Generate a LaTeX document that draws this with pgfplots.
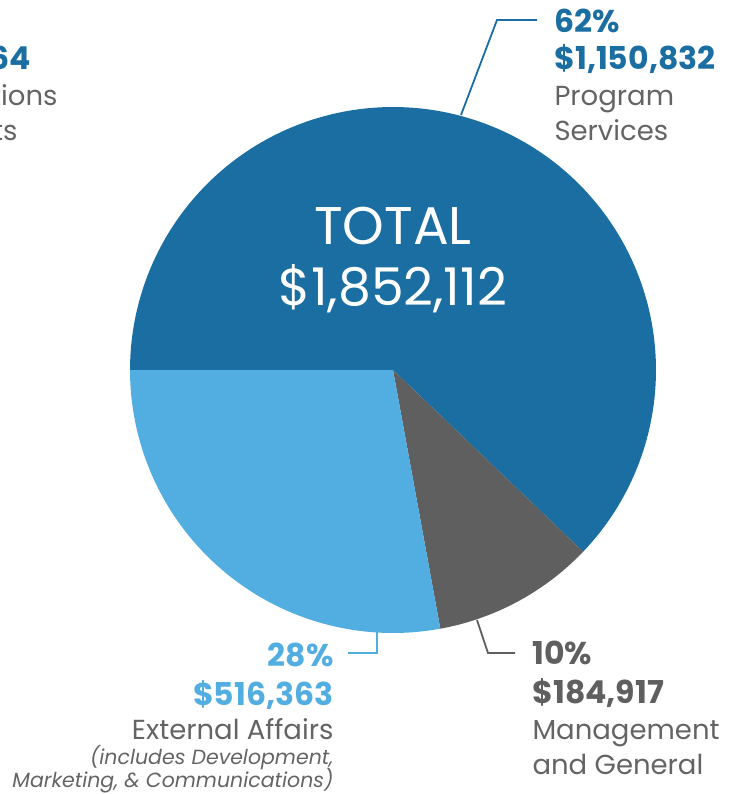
\documentclass[border=0pt]{standalone}
\usepackage{pgfplots}
\pgfplotsset{compat=1.18}
\usepackage{fontspec}
\setmainfont{Poppins}
\definecolor{dblue}{RGB}{26,110,162}
\definecolor{lblue}{RGB}{82,174,225}
\definecolor{dgray}{RGB}{95,95,95}
\definecolor{tgray}{RGB}{100,100,100}
% values in thousands of dollars
\def\vP{1150.832}
\def\vM{184.917}
\def\vE{516.363}
\pgfmathsetmacro{\vT}{\vP+\vM+\vE}
\pgfmathsetmacro{\aA}{180}
\pgfmathsetmacro{\aB}{\aA-360*(\vP/\vT)}
\pgfmathsetmacro{\aC}{\aB-360*(\vM/\vT)}
\pgfmathsetmacro{\aD}{\aC-360*(\vE/\vT)}
\newcommand{\bigb}{\fontsize{31.5}{36}\selectfont\bfseries}
\newcommand{\reg}{\fontsize{27.5}{32}\selectfont}
\newcommand{\ital}{\fontsize{20.5}{23}\selectfont\itshape}
\begin{document}
\begin{tikzpicture}
\useasboundingbox (0,0) rectangle (735pt,794pt);
\clip (0,0) rectangle (735pt,794pt);
\begin{axis}[scale only axis, width=735pt, height=794pt,
  xmin=0, xmax=735, ymin=0, ymax=794, y dir=reverse,
  hide axis, clip=false, at={(0,0)}, anchor=south west]
% pie sectors (centre 393,370; radius 263)
\addplot[fill=dblue, draw=none, domain=\aB:\aA, samples=150, variable=\t]
  ({393+263*cos(t)},{370-263*sin(t)}) -- (axis cs:393,370) -- cycle;
\addplot[fill=dgray, draw=none, domain=\aC:\aB, samples=40, variable=\t]
  ({393+263*cos(t)},{370-263*sin(t)}) -- (axis cs:393,370) -- cycle;
\addplot[fill=lblue, draw=none, domain=\aD:\aC, samples=80, variable=\t]
  ({393+263*cos(t)},{370-263*sin(t)}) -- (axis cs:393,370) -- cycle;
% leader lines
\addplot[dblue, line width=1.8pt] coordinates {(461,115) (497,20) (537,20)};
\addplot[dgray, line width=1.8pt] coordinates {(477,620) (488,653) (515,653)};
\addplot[lblue, line width=1.8pt] coordinates {(377,630) (377,653) (348,653)};
% centre total
\node[anchor=base, text=white, font=\fontsize{53}{60}\selectfont] at (axis cs:393,244) {TOTAL};
\node[anchor=base, text=white, font=\fontsize{52}{60}\selectfont] at (axis cs:393,305) {\$1,852,112};
% Program services
\node[anchor=base west, text=dblue, font=\bigb] at (axis cs:551,33) {62\%};
\node[anchor=base west, text=dblue, font=\bigb] at (axis cs:551,70) {\$1,150,832};
\node[anchor=base west, text=tgray, font=\reg] at (axis cs:551,106) {Program};
\node[anchor=base west, text=tgray, font=\reg] at (axis cs:551,141) {Services};
% Management
\node[anchor=base west, text=dgray, font=\bigb] at (axis cs:529,664) {10\%};
\node[anchor=base west, text=dgray, font=\bigb] at (axis cs:529,703) {\$184,917};
\node[anchor=base west, text=tgray, font=\reg] at (axis cs:529,739) {Management};
\node[anchor=base west, text=tgray, font=\reg] at (axis cs:529,774) {and General};
% External affairs
\node[anchor=base east, text=lblue, font=\bigb] at (axis cs:337,666) {28\%};
\node[anchor=base east, text=lblue, font=\bigb] at (axis cs:337,705) {\$516,363};
\node[anchor=base east, text=tgray, font=\reg] at (axis cs:337,739) {External Affairs};
\node[anchor=base east, text=tgray, font=\ital] at (axis cs:337,764) {(includes Development,};
\node[anchor=base east, text=tgray, font=\ital] at (axis cs:337,787) {Marketing, \& Communications)};
% partially visible label of the neighbouring chart
\node[anchor=base east, text=dblue, font=\bigb] at (axis cs:34,70) {64};
\node[anchor=base east, text=tgray, font=\reg] at (axis cs:61,106) {tions};
\node[anchor=base east, text=tgray, font=\reg] at (axis cs:21,141) {ts};
\end{axis}
\end{tikzpicture}
\end{document}
